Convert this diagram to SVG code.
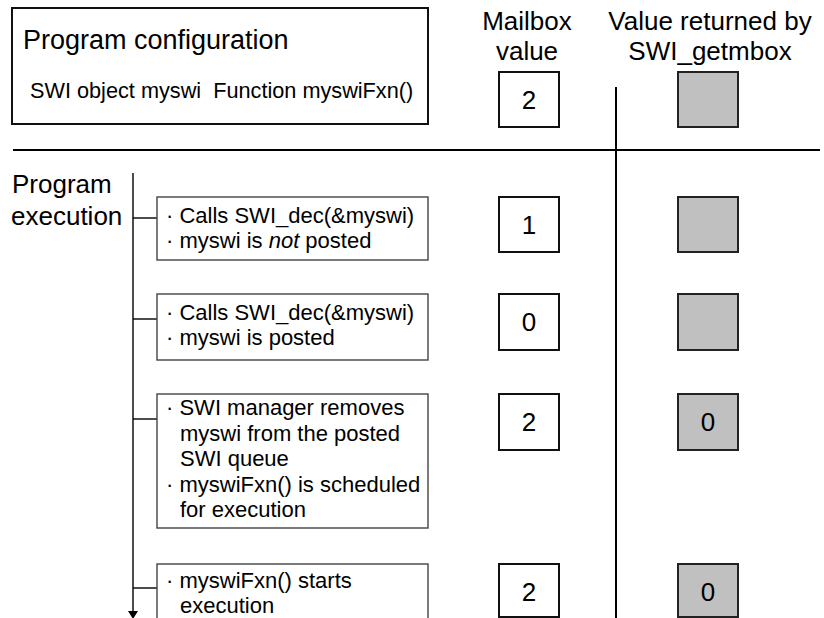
<svg xmlns="http://www.w3.org/2000/svg" width="824" height="618" viewBox="0 0 824 618">
<style>
text{font-family:"Liberation Sans",Arial,sans-serif;fill:#000}
.h{font-size:26px}
.b{font-size:22px}
.n{font-size:26px;text-anchor:middle}
.c{text-anchor:middle}
.step{fill:#fff;stroke:#444;stroke-width:1.4}
.mb{fill:#fff;stroke:#111;stroke-width:2}
.gr{fill:#c0c0c0;stroke:#222;stroke-width:2}
.ln{stroke:#000;stroke-width:1.4;fill:none}
.big{stroke:#000;stroke-width:2;fill:none}
</style>
<rect width="824" height="618" fill="#fff"/>

<g id="config">
<rect x="12" y="8" width="416" height="116" fill="#fff" stroke="#111" stroke-width="2"/>
<text x="23" y="49" font-size="27">Program configuration</text>
<text x="30" y="98" font-size="21.7" xml:space="preserve">SWI object myswi  Function myswiFxn()</text>
</g>

<g id="headers">
<text class="h c" x="527" y="30">Mailbox</text>
<text class="h c" x="527" y="60">value</text>
<text class="h c" x="710" y="30">Value returned by</text>
<text class="h c" x="710" y="60">SWI_getmbox</text>
</g>

<g id="dividers">
<line class="big" x1="13" y1="150" x2="820" y2="150"/>
<line class="big" x1="616" y1="87" x2="616" y2="618"/>
</g>

<g id="exec-label">
<text class="h" x="12" y="193">Program</text>
<text class="h" x="11" y="225">execution</text>
</g>

<g id="connectors">
<line class="ln" x1="133" y1="173" x2="133" y2="611"/>
<polygon points="128,611 138,611 133,619" fill="#000"/>
<line class="ln" x1="133" y1="218" x2="157" y2="218"/>
<line class="ln" x1="133" y1="319" x2="157" y2="319"/>
<line class="ln" x1="133" y1="419" x2="157" y2="419"/>
<line class="ln" x1="133" y1="588" x2="157" y2="588"/>
</g>

<g id="step1">
<rect class="step" x="157" y="197" width="271" height="63"/>
<text class="b" x="166" y="223">· Calls SWI_dec(&amp;myswi)</text>
<text class="b" x="166" y="248">· myswi is <tspan font-style="italic">not</tspan> posted</text>
</g>
<g id="step2">
<rect class="step" x="157" y="294" width="271" height="66"/>
<text class="b" x="166" y="320">· Calls SWI_dec(&amp;myswi)</text>
<text class="b" x="166" y="345">· myswi is posted</text>
</g>
<g id="step3">
<rect class="step" x="157" y="394" width="271" height="134"/>
<text class="b" x="166" y="415">· SWI manager removes</text>
<text class="b" x="180" y="441">myswi from the posted</text>
<text class="b" x="180" y="466">SWI queue</text>
<text class="b" x="166" y="492">· myswiFxn() is scheduled</text>
<text class="b" x="180" y="517">for execution</text>
</g>
<g id="step4">
<rect class="step" x="157" y="564" width="271" height="70"/>
<text class="b" x="166" y="588">· myswiFxn() starts</text>
<text class="b" x="180" y="613">execution</text>
</g>

<g id="mbox0"><rect class="mb" x="499" y="72" width="60" height="55"/><text class="n" x="529" y="109">2</text></g>
<g id="mbox1"><rect class="mb" x="499" y="197" width="60" height="55"/><text class="n" x="529" y="234">1</text></g>
<g id="mbox2"><rect class="mb" x="499" y="294" width="60" height="56"/><text class="n" x="529" y="331">0</text></g>
<g id="mbox3"><rect class="mb" x="499" y="394" width="60" height="56"/><text class="n" x="529" y="431">2</text></g>
<g id="mbox4"><rect class="mb" x="499" y="564" width="60" height="53"/><text class="n" x="529" y="601">2</text></g>

<g id="ret0"><rect class="gr" x="678" y="72" width="60" height="55"/></g>
<g id="ret1"><rect class="gr" x="678" y="197" width="60" height="55"/></g>
<g id="ret2"><rect class="gr" x="678" y="294" width="60" height="56"/></g>
<g id="ret3"><rect class="gr" x="678" y="394" width="60" height="56"/><text class="n" x="708" y="431">0</text></g>
<g id="ret4"><rect class="gr" x="678" y="564" width="60" height="53"/><text class="n" x="708" y="601">0</text></g>
</svg>
